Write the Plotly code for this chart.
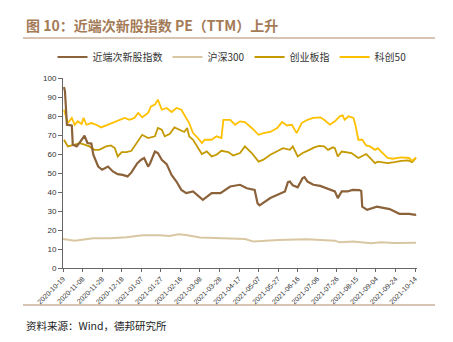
import plotly.graph_objects as go

# 近端次新股指数
d_cx = ["2020-10-20","2020-10-21","2020-10-23","2020-10-28","2020-10-29","2020-11-02","2020-11-05","2020-11-10",
        "2020-11-13","2020-11-17","2020-11-19","2020-11-24","2020-11-28","2020-12-04","2020-12-09","2020-12-14",
        "2020-12-19","2020-12-24","2020-12-28","2021-01-03","2021-01-07","2021-01-10","2021-01-14","2021-01-16",
        "2021-01-21","2021-01-24","2021-01-28","2021-02-02","2021-02-07","2021-02-12","2021-02-17","2021-02-22",
        "2021-03-01","2021-03-11","2021-03-20","2021-03-29","2021-04-08","2021-04-18","2021-04-25","2021-05-03",
        "2021-05-06","2021-05-08","2021-05-19","2021-05-29","2021-06-03","2021-06-06","2021-06-08","2021-06-11",
        "2021-06-16","2021-06-21","2021-06-23","2021-06-26","2021-07-02","2021-07-09","2021-07-19","2021-07-24",
        "2021-07-27","2021-07-31","2021-08-06","2021-08-11","2021-08-18","2021-08-20","2021-08-21","2021-08-26",
        "2021-09-05","2021-09-18","2021-09-28","2021-10-08","2021-10-14","2021-10-15"]
v_cx = [95.3,93.0,75.4,75.0,65.0,64.0,66.0,69.6,
        65.8,65.5,59.6,53.4,51.7,53.4,50.8,49.4,
        49.0,48.2,50.3,55.2,57.0,57.9,53.4,55.0,
        61.3,60.5,57.0,54.7,49.0,45.5,41.1,39.4,
        40.3,35.9,39.4,39.4,42.9,43.8,42.0,41.1,
        34.0,33.0,36.8,39.4,40.3,45.2,45.5,43.5,
        42.5,47.3,47.8,45.5,43.8,43.2,41.5,40.3,
        36.8,40.3,40.3,41.1,41.0,40.5,32.3,30.6,
        32.3,31.0,28.5,28.5,28.0,28.3]

# 沪深300
d_hs = ["2020-10-19","2020-10-31","2020-11-19","2020-12-06","2020-12-23","2021-01-08","2021-01-26","2021-02-05",
        "2021-02-14","2021-02-22","2021-03-08","2021-03-25","2021-04-14","2021-04-23","2021-05-02","2021-05-13",
        "2021-05-27","2021-06-25","2021-07-07","2021-07-24","2021-07-29","2021-08-12","2021-08-30","2021-09-09",
        "2021-09-23","2021-10-15"]
v_hs = [15.3,14.4,15.7,15.7,16.2,17.2,17.2,16.9,
        17.8,17.4,16.0,15.7,15.1,15.3,13.9,14.2,
        14.8,15.1,14.8,14.4,13.5,13.9,13.0,13.5,
        13.2,13.3]

# 创业板指
d_cy = ["2020-10-20","2020-10-21","2020-10-24","2020-10-31","2020-11-05","2020-11-10","2020-11-15","2020-11-20",
        "2020-11-25","2020-12-02","2020-12-07","2020-12-11","2020-12-14","2020-12-18","2020-12-23","2020-12-28",
        "2020-12-31","2021-01-05","2021-01-08","2021-01-14","2021-01-19","2021-01-21","2021-01-24","2021-01-28",
        "2021-01-31","2021-02-05","2021-02-10","2021-02-15","2021-02-20","2021-02-23","2021-02-25","2021-03-01",
        "2021-03-05","2021-03-10","2021-03-15","2021-03-20","2021-03-25","2021-03-30","2021-04-06","2021-04-11",
        "2021-04-18","2021-04-23","2021-04-30","2021-05-07","2021-05-12","2021-05-19","2021-05-27","2021-06-01",
        "2021-06-08","2021-06-11","2021-06-16","2021-06-21","2021-06-28","2021-07-03","2021-07-08","2021-07-13",
        "2021-07-17","2021-07-22","2021-07-24","2021-07-27","2021-07-31","2021-08-05","2021-08-10","2021-08-17",
        "2021-08-22","2021-08-25","2021-08-29","2021-09-03","2021-09-06","2021-09-13","2021-09-16","2021-09-23",
        "2021-09-30","2021-10-07","2021-10-11","2021-10-15"]
v_cy = [67.5,66.6,64.0,64.9,65.7,64.9,64.0,62.2,
        62.2,64.0,64.5,63.1,58.7,61.0,61.0,61.7,
        64.0,68.4,70.1,68.4,69.3,69.3,73.7,72.8,
        69.3,70.5,74.0,72.8,71.6,73.7,69.3,67.5,
        64.0,60.0,61.4,58.7,59.6,61.7,61.0,59.2,
        60.5,64.0,60.5,56.0,57.0,59.6,61.7,63.1,
        62.2,64.0,58.7,60.5,62.2,63.5,64.3,64.0,
        62.2,63.5,63.1,58.7,61.3,61.0,60.5,57.9,
        59.2,60.0,57.9,55.2,56.0,55.7,55.2,55.7,
        56.4,56.6,55.7,57.9]

# 科创50
d_kc = ["2020-10-20","2020-10-21","2020-10-24","2020-10-28","2020-10-31","2020-11-03","2020-11-07","2020-11-09",
        "2020-11-12","2020-11-17","2020-11-22","2020-11-27","2020-12-02","2020-12-09","2020-12-16","2020-12-21",
        "2020-12-26","2020-12-31","2021-01-04","2021-01-08","2021-01-14","2021-01-17","2021-01-21","2021-01-24",
        "2021-01-28","2021-02-02","2021-02-07","2021-02-12","2021-02-17","2021-02-22","2021-02-25","2021-03-01",
        "2021-03-06","2021-03-10","2021-03-13","2021-03-20","2021-03-25","2021-03-30","2021-04-01","2021-04-08",
        "2021-04-13","2021-04-18","2021-04-23","2021-04-30","2021-05-07","2021-05-12","2021-05-19","2021-05-26",
        "2021-05-31","2021-06-05","2021-06-10","2021-06-15","2021-06-20","2021-06-26","2021-07-02","2021-07-09",
        "2021-07-13","2021-07-19","2021-07-24","2021-07-29","2021-08-01","2021-08-03","2021-08-07","2021-08-12",
        "2021-08-14","2021-08-17","2021-08-21","2021-08-25","2021-08-29","2021-09-03","2021-09-06","2021-09-09",
        "2021-09-13","2021-09-16","2021-09-21","2021-09-30","2021-10-08","2021-10-11","2021-10-15"]
v_kc = [83.3,81.6,76.3,79.0,75.4,77.2,75.8,79.0,
        75.4,76.3,75.4,74.0,75.0,76.3,78.0,79.0,
        78.0,79.0,81.6,79.3,81.6,85.0,86.0,88.6,
        83.3,84.2,82.1,84.2,83.3,79.0,76.3,71.0,
        68.4,65.7,67.5,67.5,69.3,68.4,78.0,78.0,
        75.4,77.2,76.8,73.7,70.1,71.0,71.6,73.7,
        76.8,75.0,75.4,71.0,76.3,78.0,79.0,79.3,
        78.0,75.4,77.2,79.8,80.3,78.0,79.8,79.0,
        75.4,67.5,67.5,64.5,64.0,62.2,63.1,61.4,
        59.6,57.9,57.5,58.2,57.9,56.4,58.2]

tick_dates = ["2020-10-19","2020-11-08","2020-11-28","2020-12-18","2021-01-07","2021-01-27","2021-02-16",
              "2021-03-08","2021-03-28","2021-04-17","2021-05-07","2021-05-27","2021-06-16","2021-07-06",
              "2021-07-26","2021-08-15","2021-09-04","2021-09-24","2021-10-14"]

names = ["近端次新股指数", "沪深300", "创业板指", "科创50"]
colors = ["#8B6239", "#D9C7A2", "#C49A00", "#FFC000"]
widths = [2.2, 2.0, 1.8, 1.8]

# plot area in px: x 63..417, y 78..268
PW, PH = 354, 190
def px(x):
    return (x - 63) / PW
def py(y):
    return (268 - y) / PH

fig = go.Figure()
for d, v, n, c, w in zip([d_cx, d_hs, d_cy, d_kc], [v_cx, v_hs, v_cy, v_kc], names, colors, widths):
    fig.add_trace(go.Scatter(x=d, y=v, mode="lines", name=n, line=dict(color=c, width=w)))

# draw brown on top
fig.data = (fig.data[1], fig.data[2], fig.data[3], fig.data[0])
order = {n: i for i, n in enumerate(names)}
for tr in fig.data:
    tr.legendrank = order[tr.name]

fig.update_layout(
    width=453, height=342,
    margin=dict(l=63, r=36, t=78, b=74),
    paper_bgcolor="white", plot_bgcolor="white",
    font=dict(family="Liberation Sans, Noto Sans CJK SC", size=9, color="#333"),
    showlegend=True,
    legend=dict(orientation="h", x=px(232), xanchor="center", y=py(57), yanchor="middle",
                font=dict(family="Noto Sans CJK SC", size=10, color="#333"),
                itemwidth=30, bgcolor="rgba(0,0,0,0)"),
)

fig.update_xaxes(
    type="date", range=["2020-10-19", "2021-10-16"],
    tickvals=tick_dates, ticktext=tick_dates, tickangle=-45,
    tickfont=dict(size=7, color="#333"),
    showline=True, linecolor="#666", linewidth=1,
    ticks="outside", ticklen=3, tickcolor="#666",
    showgrid=False, zeroline=False,
)
fig.update_yaxes(
    range=[0, 100], dtick=10, tickfont=dict(size=8, color="#333"),
    showline=True, linecolor="#666", linewidth=1,
    ticks="outside", ticklen=4, tickcolor="#666",
    showgrid=False, zeroline=False,
)

fig.add_annotation(text="<b>图 10：近端次新股指数 PE（TTM）上升</b>", xref="paper", yref="paper",
                   x=px(24), y=py(25), xanchor="left", yanchor="middle", showarrow=False,
                   font=dict(family="Noto Sans CJK SC", size=14, color="#A47B57"))
fig.add_annotation(text="资料来源：Wind，德邦研究所", xref="paper", yref="paper",
                   x=px(24), y=py(325), xanchor="left", yanchor="middle", showarrow=False,
                   font=dict(family="Noto Sans CJK SC", size=10.5, color="#222"))

for yl in (38, 305):
    fig.add_shape(type="line", xref="paper", yref="paper", x0=px(23), x1=px(435),
                  y0=py(yl), y1=py(yl), line=dict(color="#B08A66", width=1.2))

fig.write_html("out.html")
